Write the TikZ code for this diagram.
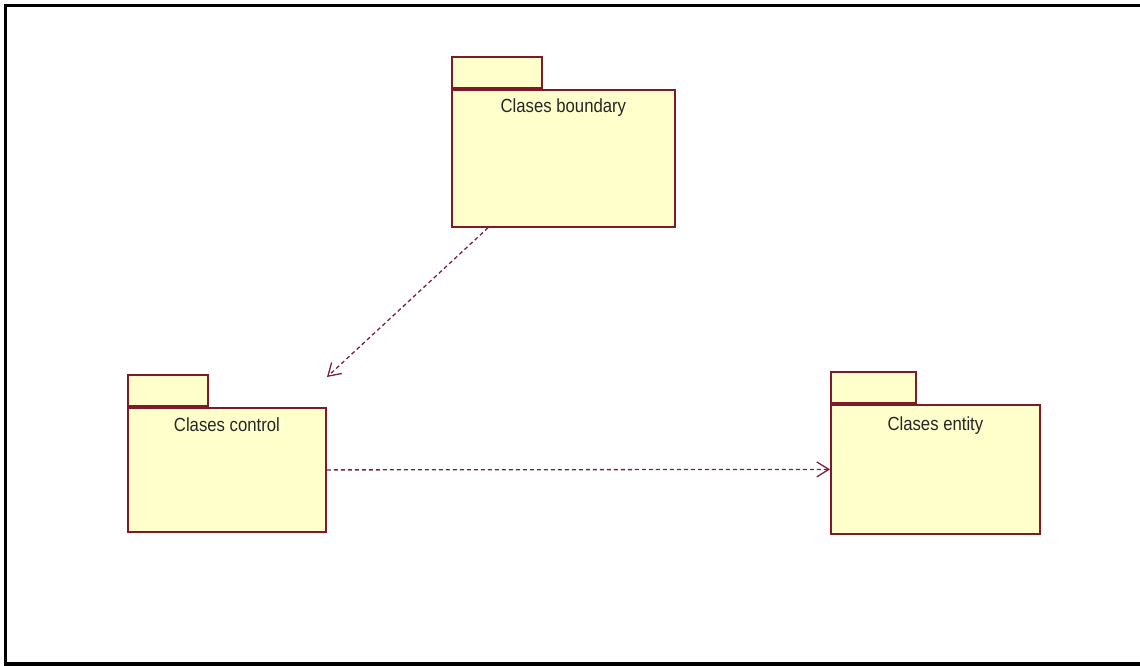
\documentclass[tikz,border=0pt]{standalone}
\usepackage{fontspec}
\usepackage{xcolor}
\newfontfamily\pkgfont[FakeStretch=0.88]{Liberation Sans}
\usetikzlibrary{arrows.meta, positioning}
\definecolor{pkgfill}{HTML}{FFFFCC}
\definecolor{pkgline}{HTML}{7F1A2A}
\definecolor{depline}{HTML}{7A2048}

\begin{document}
\begin{tikzpicture}[x=1pt, y=-1pt,
    package/.style={draw=pkgline, fill=pkgfill, line width=1.8pt, inner sep=0pt, anchor=north west},
    pkgtab/.style={draw=pkgline, fill=pkgfill, line width=1.8pt, inner sep=0pt, anchor=south west, minimum height=31pt},
    pkgname/.style={font=\pkgfont\fontsize{19}{22}\selectfont, text=black!85, anchor=base, inner sep=0pt},
    dep/.style={depline, line width=1.3pt, dash pattern=on 4pt off 3pt, -{Straight Barb[length=12pt, width=15pt]}}]
    \useasboundingbox (0,0) rectangle (1140,666);

    % Frame
    \draw[line width=3.3pt] (1150,5.5) -- (5.5,5.5) -- (5.5,664) -- (1150,664);

    % Packages
    \node[package, minimum width=223pt, minimum height=137pt] (boundary) at (451,89) {};
    \node[pkgtab, minimum width=90pt] (boundary tab) at (boundary.north west) {};
    \node[pkgname] (boundary name) at ([yshift=-24pt]boundary.north) {Clases boundary};

    \node[package, minimum width=198pt, minimum height=124pt] (control) at (127,407) {};
    \node[pkgtab, minimum width=80pt] (control tab) at (control.north west) {};
    \node[pkgname] (control name) at ([yshift=-24pt]control.north) {Clases control};

    \node[package, minimum width=209pt, minimum height=129pt] (entity) at (830,404) {};
    \node[pkgtab, minimum width=85pt] (entity tab) at (entity.north west) {};
    \node[pkgname] (entity name) at ([yshift=-26pt]entity.north) {Clases entity};

    % Dependencies
    \coordinate (control in) at (327,377);
    \draw[dep] ([xshift=37pt]boundary.south west) -- (control in);
    \draw[dep] (control.east) -- (entity.west);
\end{tikzpicture}
\end{document}
